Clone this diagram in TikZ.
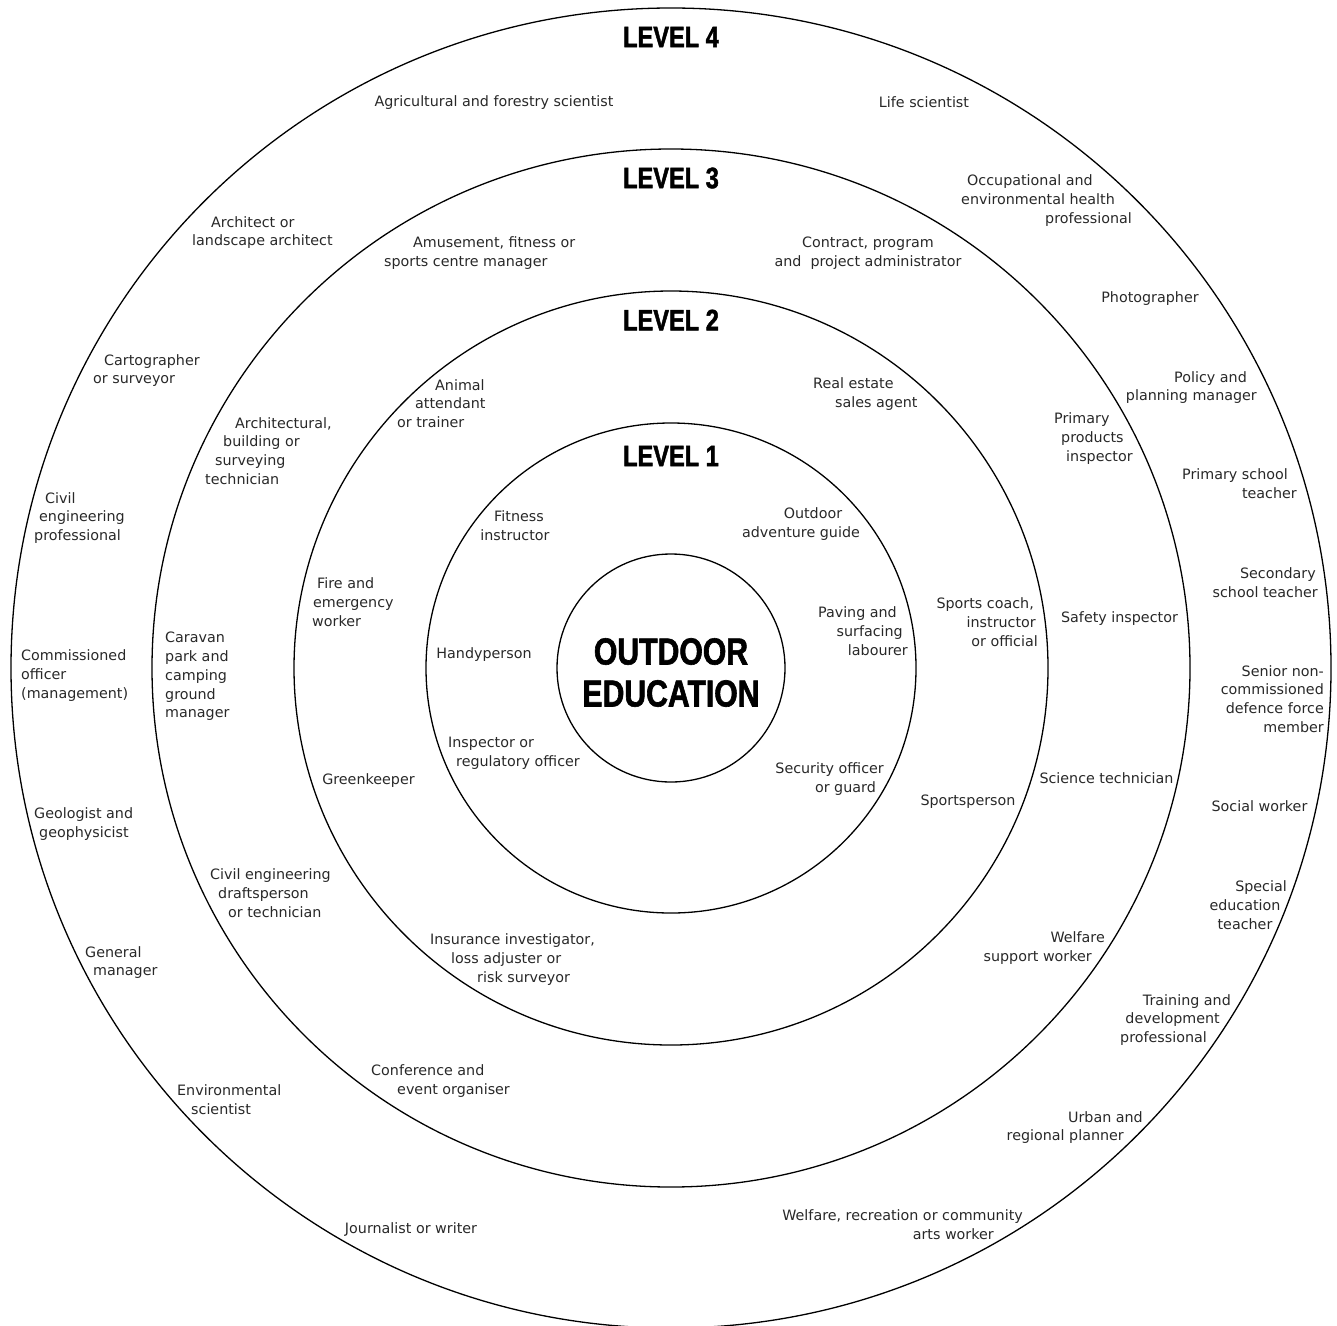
\documentclass[tikz,border=0pt]{standalone}
\usepackage{fontspec}
\setmainfont{DejaVu Sans}
\newfontfamily\headfont{Liberation Sans}[FakeStretch=0.8,FakeBold=1.6]
\definecolor{jobgray}{RGB}{40,40,40}
\newcommand\jobtxt{\fontsize{14.3}{18.75}\selectfont}
\newcommand\levtxt{\headfont\bfseries\fontsize{29.5}{31}\selectfont}
\newcommand\titletxt{\headfont\bfseries\fontsize{37.7}{42}\selectfont}
\newcommand\gapx[1]{\leavevmode\hbox to #1pt{\hfil}}
\tikzset{
  ring/.style={circle, draw, line width=1.3pt, inner sep=0pt},
  job/.style={font=\jobtxt, text=jobgray, inner sep=0pt, yshift=-1.5pt},
  jl/.style={job, align=left, anchor=west},
  jr/.style={job, align=right, anchor=east},
  jc/.style={job, align=center, anchor=center},
  lev/.style={font=\levtxt, inner sep=0pt},
}
\begin{document}
\begin{tikzpicture}[x=1pt,y=-1pt]
\useasboundingbox (0,0) rectangle (1337,1325);
\coordinate (c) at (671,668);
% rings
\node[ring, minimum size=1320pt] (r4) at (c) {};
\node[ring, minimum size=1038pt] (r3) at (c) {};
\node[ring, minimum size=754pt] (r2) at (c) {};
\node[ring, minimum size=490pt] (r1) at (c) {};
\node[ring, minimum size=228pt] (core) at (c) {};
\node[font=\titletxt, align=center, inner sep=0pt] (title) at (671,672.5) {OUTDOOR\\EDUCATION};
% level headings
\node[lev] (lev4) at (671,37) {LEVEL 4};
\node[lev] (lev3) at (671,178) {LEVEL 3};
\node[lev] (lev2) at (671,320) {LEVEL 2};
\node[lev] (lev1) at (671,456) {LEVEL 1};
% level 4 ring
\node[jc] (a4) at (494,101) {Agricultural and forestry scientist};
\node[jc] (b4) at (924,101) {Life scientist};
\node[jl] (c4) at (961,199) {\gapx{6}Occupational and\\environmental health\\\gapx{84}professional};
\node[jc] (d4) at (1150,297) {Photographer};
\node[jr] (e4) at (1257,386) {Policy and\gapx{10}\\planning manager};
\node[jr] (f4) at (1297,482.5) {Primary school\gapx{9}\\teacher};
\node[jr] (g4) at (1318,581) {Secondary\gapx{2}\\school teacher};
\node[jr] (h4) at (1324,697.5) {Senior non-\\commissioned\\defence force\\member};
\node[jc] (i4) at (1259.5,805) {Social worker};
\node[jc] (j4) at (1245,903.5) {\gapx{32}Special\\education\\teacher};
\node[jr] (k4) at (1231,1018.5) {Training and\\development\gapx{11}\\professional\gapx{24}};
\node[jr] (l4) at (1143,1126) {Urban and\\regional planner\gapx{19}};
\node[jr] (m4) at (1023,1223.5) {Welfare, recreation or community\\arts worker\gapx{29}};
\node[jc] (n4) at (411,1228) {Journalist or writer};
\node[jl] (o4) at (177,1098.5) {Environmental\\\gapx{14}scientist};
\node[jl] (p4) at (85,961) {General\\\gapx{8}manager};
\node[jl] (q4) at (34,822.5) {Geologist and\\\gapx{5}geophysicist};
\node[jl] (r4t) at (21,674) {Commissioned\\officer\\(management)};
\node[jl] (s4) at (34,516.5) {\gapx{11}Civil\\\gapx{5}engineering\\professional};
\node[jl] (t4) at (93,369) {\gapx{11}Cartographer\\or surveyor};
\node[jl] (u4) at (192,231) {\gapx{19}Architect or\\landscape architect};
% level 3 ring
\node[jl] (a3) at (384,251.5) {\gapx{29}Amusement, fitness or\\sports centre manager};
\node[jc] (b3) at (868,251.5) {Contract, program\\and\ \ project administrator};
\node[jl] (c3) at (1054,437) {Primary\\\gapx{7}products\\\gapx{12}inspector};
\node[jc] (d3) at (1119.5,617) {Safety inspector};
\node[jc] (e3) at (1106.5,777) {Science technician};
\node[jr] (f3) at (1105,946.5) {Welfare\\support worker\gapx{13}};
\node[jl] (g3) at (371,1079.5) {Conference and\\\gapx{26}event organiser};
\node[jl] (h3) at (210,891.5) {Civil engineering\\\gapx{8}draftsperson\\\gapx{18}or technician};
\node[jl] (i3) at (165,675) {Caravan\\park and\\camping\\ground\\manager};
\node[jl] (j3) at (205,449.5) {\gapx{30}Architectural,\\\gapx{18}building or\\\gapx{10}surveying\\technician};
% level 2 ring
\node[jl] (a2) at (397,402) {\gapx{38}Animal\\\gapx{18}attendant\\or trainer};
\node[jl] (b2) at (813,392.5) {Real estate\\\gapx{22}sales agent};
\node[jr] (c2) at (1038,620.5) {Sports coach,\gapx{4}\\instructor\gapx{2}\\or official};
\node[jc] (d2) at (968,800) {Sportsperson};
\node[jl] (e2) at (430,958) {Insurance investigator,\\\gapx{21}loss adjuster or\\\gapx{47}risk surveyor};
\node[jc] (f2) at (368.5,779) {Greenkeeper};
\node[jl] (g2) at (312,600.5) {\gapx{5}Fire and\\\gapx{1}emergency\\worker};
% level 1 ring
\node[jc] (a1) at (515,524) {\gapx{8}Fitness\\instructor};
\node[jc] (b1) at (801,522.5) {\gapx{24}Outdoor\\adventure guide};
\node[jr] (c1) at (908,629.5) {Paving and\gapx{11}\\surfacing\gapx{5}\\labourer};
\node[jr] (d1) at (884,777.5) {Security officer\\or guard\gapx{8}};
\node[jl] (e1) at (448,752) {Inspector or\\\gapx{8}regulatory officer};
\node[jc] (f1) at (484,653) {Handyperson};
\end{tikzpicture}
\end{document}
